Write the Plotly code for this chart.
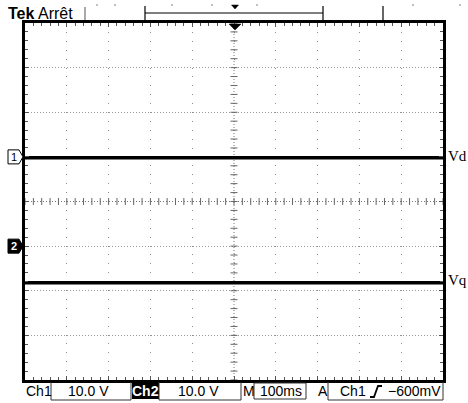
import numpy as np
import plotly.graph_objects as go

# ---------------- data ----------------
time_s = [0.0, 1.0]                  # 100 ms/div x 10 div
vd_volts = [-0.2, -0.2]              # channel 1 (Vd)
vq_volts = [-8.2, -8.2]              # channel 2 (Vq)
ch1_position_div = 1.0
ch2_position_div = -1.0
volts_per_div = 10.0
sec_per_div = 0.1
trace_names = ["Vd", "Vq"]
readouts = ["Ch1", "10.0 V", "Ch2", "10.0 V", "M", "100ms", "A", "Ch1", "−600mV"]
title_text = ["Tek", "Arrêt"]

# ---------------- geometry ----------------
W, H = 468, 403
L, R, T, B = 25, 443, 23, 380


def px(x):
    return (x - L) / (R - L)


def py(y):
    return (B - y) / (B - T)


def to_div(v, pos):
    return [pos + vi / volts_per_div for vi in v]


t_div = [t / sec_per_div for t in time_s]
vd_div = to_div(vd_volts, ch1_position_div)
vq_div = to_div(vq_volts, ch2_position_div)

fig = go.Figure()

# centre crosshair (dotted + small ticks)
fig.add_trace(go.Scatter(x=[0, 10], y=[0, 0], mode="lines",
                         line=dict(color="#777", width=1, dash="1px,2px"),
                         hoverinfo="skip", showlegend=False))
fig.add_trace(go.Scatter(x=[5, 5], y=[-4, 4], mode="lines",
                         line=dict(color="#777", width=1, dash="1px,2px"),
                         hoverinfo="skip", showlegend=False))
hx = np.arange(0, 10.001, 0.2)
fig.add_trace(go.Scatter(x=hx, y=np.zeros_like(hx), mode="markers",
                         marker=dict(symbol="line-ns", size=5,
                                     line=dict(color="#666", width=1)),
                         hoverinfo="skip", showlegend=False))
vy = np.arange(-4, 4.001, 0.2)
fig.add_trace(go.Scatter(x=np.full_like(vy, 5.0), y=vy, mode="markers",
                         marker=dict(symbol="line-ew", size=5,
                                     line=dict(color="#666", width=1)),
                         hoverinfo="skip", showlegend=False))

# signal traces
for yv, name in [(vd_div, trace_names[0]), (vq_div, trace_names[1])]:
    fig.add_trace(go.Scatter(x=t_div, y=yv, mode="lines", name=name,
                             line=dict(color="black", width=3.5),
                             showlegend=False))

fig.update_xaxes(range=[0, 10], dtick=1, showticklabels=False,
                 showgrid=True, gridcolor="#8a8a8a", gridwidth=1,
                 griddash="1px,7.9px", zeroline=False,
                 showline=True, linecolor="black", linewidth=3, mirror="allticks",
                 ticks="inside", ticklen=4, tickcolor="#555",
                 minor=dict(dtick=0.2, ticks="inside", ticklen=3, tickcolor="#555",
                            showgrid=False))
fig.update_yaxes(range=[-4, 4], dtick=1, showticklabels=False,
                 showgrid=True, gridcolor="#9a9a9a", gridwidth=1,
                 griddash="1px,2px", zeroline=False,
                 showline=True, linecolor="black", linewidth=3, mirror="allticks",
                 ticks="inside", ticklen=4, tickcolor="#555",
                 minor=dict(dtick=0.2, ticks="inside", ticklen=3, tickcolor="#555",
                            showgrid=False))

shapes = []
ann = []


def line(x0, y0, x1, y1, color="black", width=1):
    shapes.append(dict(type="line", xref="paper", yref="paper",
                       x0=px(x0), y0=py(y0), x1=px(x1), y1=py(y1),
                       line=dict(color=color, width=width)))


def path(points, fill=None, color="black", width=1, close=True):
    d = "M " + " L ".join(f"{px(a)},{py(b)}" for a, b in points)
    if close:
        d += " Z"
    shapes.append(dict(type="path", xref="paper", yref="paper", path=d,
                       fillcolor=fill if fill else "rgba(0,0,0,0)",
                       line=dict(color=color, width=width)))


def text(s, x, y, anchor="left", size=14, color="black", family="Liberation Sans"):
    ann.append(dict(text=s, x=px(x), y=py(y), xref="paper", yref="paper",
                    xanchor=anchor, yanchor="middle", showarrow=False,
                    font=dict(size=size, color=color, family=family)))


# top bar
text(f"<b>{title_text[0]}</b> {title_text[1]}", 6, 13, size=16)
line(85, 7, 85, 20, color="#555")
line(145, 13, 323, 13, width=1.2)
line(145, 6, 145, 20, width=1.2)
line(323, 6, 323, 20, width=1.2)
line(383, 6, 383, 21, width=1.2)
path([(231.5, 5), (238.5, 5), (235, 9)], fill="black", width=0.5)
for dx in [97, 115, 172, 212, 257, 413, 460]:
    shapes.append(dict(type="rect", xref="paper", yref="paper",
                       x0=px(dx - 0.7), x1=px(dx + 0.7), y0=py(4.3), y1=py(5.7),
                       fillcolor="#888", line=dict(width=0)))
# trigger position marker at top of graticule
path([(229, 24), (241, 24), (235, 30)], fill="black", width=0.5)

# channel ground markers
y1m = B - (ch1_position_div + 4) / 8 * (B - T)
y2m = B - (ch2_position_div + 4) / 8 * (B - T)
path([(8, y1m - 7), (19, y1m - 7), (23, y1m), (19, y1m + 7), (8, y1m + 7)],
     fill="white", color="black", width=1)
text("1", 13.5, y1m, anchor="center", size=11)
path([(8, y2m - 7), (19, y2m - 7), (23, y2m), (19, y2m + 7), (8, y2m + 7)],
     fill="black", color="black", width=1)
text("<b>2</b>", 13.5, y2m, anchor="center", size=11, color="white")

# trace labels
text(trace_names[0], 446, 156, size=15, family="Liberation Serif")
text(trace_names[1], 446, 280, size=15, family="Liberation Serif")

# bottom readout
by = 391
text(readouts[0], 24, by)
path([(51, 382), (51, 400), (131, 400), (131, 382)], color="#333", close=False)
text(readouts[1], 88, by, anchor="center")
shapes.append(dict(type="rect", xref="paper", yref="paper",
                   x0=px(132), x1=px(159), y0=py(383), y1=py(399),
                   fillcolor="black", line=dict(width=0)))
text(f"<b>{readouts[2]}</b>", 145.5, by, anchor="center", color="white")
path([(159, 382), (159, 400), (241, 400), (241, 382)], color="#333", close=False)
text(readouts[3], 198, by, anchor="center")
text(readouts[4], 241, by)
path([(254, 383), (254, 399), (306, 399), (306, 383)], color="#333", close=True)
text(readouts[5], 281, by, anchor="center")
text(readouts[6], 316, by)
path([(328, 382), (328, 400), (443, 400), (443, 382)], color="#333", close=False)
text(readouts[7], 338, by)
path([(370, 397), (374, 397), (378, 386), (382, 386)], color="black", width=1.8, close=False)
text(readouts[8], 443, by, anchor="right")

fig.update_layout(width=W, height=H,
                  margin=dict(l=L, r=W - R, t=T, b=H - B, pad=0),
                  paper_bgcolor="white", plot_bgcolor="white",
                  shapes=shapes, annotations=ann, showlegend=False)

fig.write_html("out.html",
               config={"displayModeBar": False, "staticPlot": True},
               post_script="document.body.style.margin='0';document.body.style.padding='0';")
